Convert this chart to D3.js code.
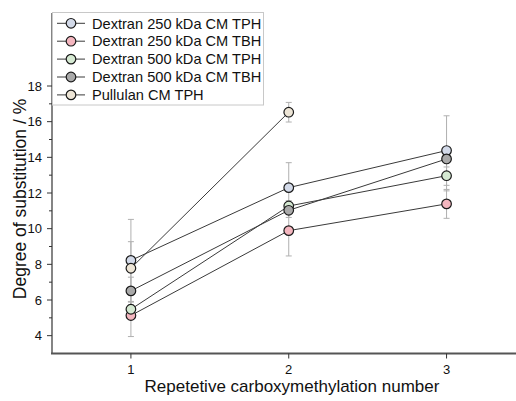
<!DOCTYPE html>
<html>
<head>
<meta charset="utf-8">
<script src="https://cdn.jsdelivr.net/npm/d3@7"></script>
<style>
  html, body { margin: 0; padding: 0; background: #fff; }
  svg { display: block; font-family: "Liberation Sans", Arial, sans-serif; }
</style>
</head>
<body>
<svg id="chart" width="516" height="401"></svg>
<script>
// ---- data ----
const seriesNames = [
  "Dextran 250 kDa CM TPH",
  "Dextran 250 kDa CM TBH",
  "Dextran 500 kDa CM TPH",
  "Dextran 500 kDa CM TBH",
  "Pullulan CM TPH"
];
const seriesColors = ["#d3dae9", "#f4b6bf", "#d5e9d2", "#a9a9a9", "#ede5d6"];
const xValues = [1, 2, 3];
const d250TPH = [8.22, 12.30, 14.38];
const d250TPHErr = [2.3, 1.4, 1.95];
const d250TBH = [5.13, 9.89, 11.39];
const d250TBHErr = [1.18, 1.42, 0.81];
const d500TPH = [5.48, 11.27, 12.97];
const d500TPHErr = [0.4, 0.3, 0.85];
const d500TBH = [6.51, 11.03, 13.91];
const d500TBHErr = [0.77, 0.4, 0.45];
const pullulan = [7.78, 16.53];
const pullulanErr = [1.49, 0.55];
const xTicks = [1, 2, 3];
const yTicks = [4, 6, 8, 10, 12, 14, 16, 18];
const yMinorTicks = [5, 7, 9, 11, 13, 15, 17];
const xTitle = "Repetetive carboxymethylation number";
const yTitle = "Degree of substitution / %";

const allValues = [d250TPH, d250TBH, d500TPH, d500TBH, pullulan];
const allErrors = [d250TPHErr, d250TBHErr, d500TPHErr, d500TBHErr, pullulanErr];
const series = seriesNames.map((name, i) => ({
  name, color: seriesColors[i],
  points: allValues[i].map((v, j) => ({ x: xValues[j], y: v, e: allErrors[i][j] }))
}));

// ---- layout ----
const svg = d3.select("#chart");
const x = d3.scaleLinear().domain([0.5, 3.44]).range([52, 516]);
const y = d3.scaleLinear().domain([3, 18]).range([353.5, 86]);
const plotTop = 13;

// error bars
const eb = svg.append("g").attr("stroke", "#b0b0b0").attr("stroke-width", 1).attr("fill", "none");
series.forEach(s => {
  s.points.forEach(p => {
    const cx = x(p.x);
    eb.append("line").attr("x1", cx).attr("x2", cx).attr("y1", y(p.y + p.e)).attr("y2", y(p.y - p.e));
    eb.append("line").attr("x1", cx - 3).attr("x2", cx + 3).attr("y1", y(p.y + p.e)).attr("y2", y(p.y + p.e));
    eb.append("line").attr("x1", cx - 3).attr("x2", cx + 3).attr("y1", y(p.y - p.e)).attr("y2", y(p.y - p.e));
  });
});

// lines
const line = d3.line().x(d => x(d.x)).y(d => y(d.y));
series.forEach(s => {
  svg.append("path").datum(s.points).attr("d", line)
    .attr("fill", "none").attr("stroke", "#3a3a3a").attr("stroke-width", 1);
});
// markers
series.forEach(s => {
  svg.append("g").selectAll("circle").data(s.points).join("circle")
    .attr("cx", d => x(d.x)).attr("cy", d => y(d.y)).attr("r", 4.8)
    .attr("fill", s.color).attr("stroke", "#1a1a1a").attr("stroke-width", 1.2);
});

// y axis
const yAxis = svg.append("g").attr("transform", "translate(52,0)");
yAxis.append("line").attr("x1", 0).attr("x2", 0).attr("y1", plotTop).attr("y2", 354)
  .attr("stroke", "#333").attr("stroke-width", 1.2);
yAxis.selectAll(".maj").data(yTicks).join("line")
  .attr("x1", -5).attr("x2", 0).attr("y1", d => y(d)).attr("y2", d => y(d))
  .attr("stroke", "#333").attr("stroke-width", 1);
yAxis.selectAll(".min").data(yMinorTicks).join("line")
  .attr("x1", -3).attr("x2", 0).attr("y1", d => y(d)).attr("y2", d => y(d))
  .attr("stroke", "#333").attr("stroke-width", 1);
yAxis.selectAll("text").data(yTicks).join("text")
  .attr("x", -10).attr("y", d => y(d)).attr("dy", "0.36em")
  .attr("text-anchor", "end").attr("font-size", 13).attr("fill", "#111")
  .text(d => d);

// x axis
const xAxis = svg.append("g").attr("transform", "translate(0,353.5)");
xAxis.append("line").attr("x1", 51).attr("x2", 516).attr("y1", 0).attr("y2", 0)
  .attr("stroke", "#555").attr("stroke-width", 2);
xAxis.selectAll(".t").data(xTicks).join("line")
  .attr("x1", d => x(d)).attr("x2", d => x(d)).attr("y1", 0).attr("y2", 5)
  .attr("stroke", "#333").attr("stroke-width", 1);
xAxis.selectAll("text").data(xTicks).join("text")
  .attr("x", d => x(d)).attr("y", 20)
  .attr("text-anchor", "middle").attr("font-size", 13).attr("fill", "#111")
  .text(d => d);

// titles
svg.append("text").attr("x", (52 + 516) / 2 + 8).attr("y", 392)
  .attr("text-anchor", "middle").attr("font-size", 17).attr("fill", "#111").text(xTitle);
svg.append("text").attr("transform", "translate(26,199) rotate(-90)")
  .attr("text-anchor", "middle").attr("font-size", 17.5).attr("fill", "#111").text(yTitle);

// legend
const lg = svg.append("g");
lg.append("rect").attr("x", 52.5).attr("y", 12.5).attr("width", 211).attr("height", 92.5)
  .attr("fill", "#fff").attr("stroke", "#c8c8c8").attr("stroke-width", 1);
series.forEach((s, i) => {
  const cy = 23.3 + i * 17.9;
  lg.append("line").attr("x1", 57).attr("x2", 85).attr("y1", cy).attr("y2", cy)
    .attr("stroke", "#3a3a3a").attr("stroke-width", 1);
  lg.append("circle").attr("cx", 71).attr("cy", cy).attr("r", 4.8)
    .attr("fill", s.color).attr("stroke", "#1a1a1a").attr("stroke-width", 1.2);
  lg.append("text").attr("x", 92).attr("y", cy).attr("dy", "0.36em")
    .attr("font-size", 14.6).attr("fill", "#111").text(s.name);
});
</script>
</body>
</html>
